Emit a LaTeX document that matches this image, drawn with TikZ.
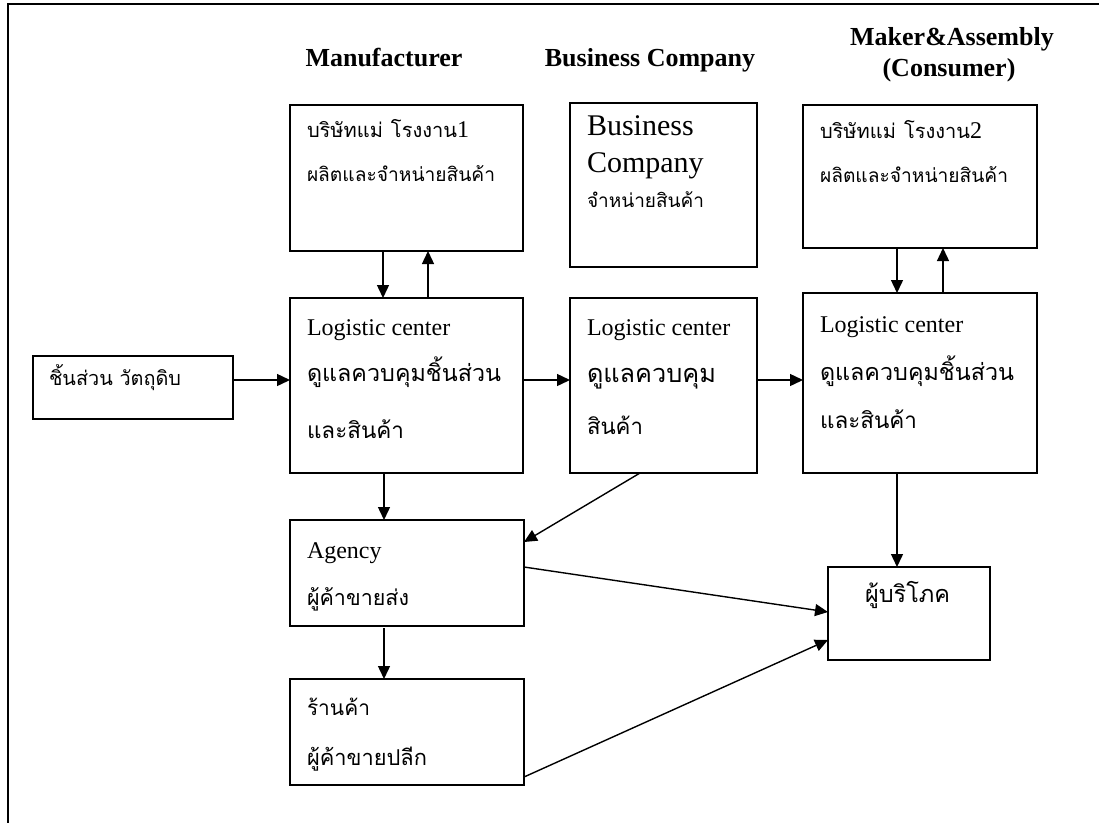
\documentclass[tikz,border=0pt]{standalone}
\usepackage{fontspec}
\usepackage{graphicx}
\setmainfont{Liberation Serif}
\newfontfamily\thaifont[Script=Thai]{Loma}
\usetikzlibrary{arrows.meta}
\newcommand{\tw}[2]{\resizebox{#1pt}{!}{\thaifont\fontsize{20}{24}\selectfont #2}}
\newcommand{\lat}{\fontsize{24}{28}\selectfont}
\begin{document}
\begin{tikzpicture}[x=1pt,y=-1pt,
  box/.style={draw,line width=1.7pt,rectangle,anchor=north west,inner sep=0pt,outer sep=0pt},
  arr/.style={line width=1.4pt,-{Triangle[length=13pt,width=12pt]}},
  txt/.style={anchor=base west,inner sep=0pt,outer sep=0pt},
  hd/.style={anchor=base,inner sep=0pt,font=\fontsize{26}{30}\selectfont\bfseries}
]
\useasboundingbox (0,0) rectangle (1099,822);
\draw[line width=2.4pt] (8,840) -- (8,4) -- (1120,4);

% headers
\node[hd] (h1) at (384,66) {Manufacturer};
\node[hd] (h2) at (650,66) {Business Company};
\node[hd] (h3) at (952,45) {Maker\&Assembly};
\node[hd] (h4) at (949,76) {(Consumer)};

% boxes
\node[box,minimum width=233pt,minimum height=146pt] (A) at (290,105) {};
\node[box,minimum width=187pt,minimum height=164pt] (B) at (570,103) {};
\node[box,minimum width=234pt,minimum height=143pt] (C) at (803,105) {};
\node[box,minimum width=200pt,minimum height=63pt] (D) at (33,356) {};
\node[box,minimum width=233pt,minimum height=175pt] (E) at (290,298) {};
\node[box,minimum width=187pt,minimum height=175pt] (F) at (570,298) {};
\node[box,minimum width=234pt,minimum height=180pt] (G) at (803,293) {};
\node[box,minimum width=234pt,minimum height=106pt] (H) at (290,520) {};
\node[box,minimum width=234pt,minimum height=106pt] (I) at (290,679) {};
\node[box,minimum width=162pt,minimum height=93pt] (J) at (828,567) {};

% texts
\node[txt] (a1) at (307,137) {\tw{150}{บริษัทแม่\hspace{8pt}โรงงาน}\lat 1};
\node[txt] (a2) at (307,181) {\tw{188}{ผลิตและจำหน่ายสินค้า}};
\node[txt] (b1) at (587,135) {\fontsize{30}{34}\selectfont Business};
\node[txt] (b2) at (587,172) {\fontsize{30}{34}\selectfont Company};
\node[txt] (b3) at (587,207) {\tw{117}{จำหน่ายสินค้า}};
\node[txt] (c1) at (820,138) {\tw{150}{บริษัทแม่\hspace{8pt}โรงงาน}\lat 2};
\node[txt] (c2) at (820,182) {\tw{188}{ผลิตและจำหน่ายสินค้า}};
\node[txt] (d1) at (49,385) {\tw{132}{ชิ้นส่วน วัตถุดิบ}};
\node[txt] (e1) at (307,335) {\lat Logistic center};
\node[txt] (e2) at (307,381) {\tw{194}{ดูแลควบคุมชิ้นส่วน}};
\node[txt] (e3) at (307,438) {\tw{97}{และสินค้า}};
\node[txt] (f1) at (587,335) {\lat Logistic center};
\node[txt] (f2) at (587,382) {\tw{129}{ดูแลควบคุม}};
\node[txt] (f3) at (587,434) {\tw{56}{สินค้า}};
\node[txt] (g1) at (820,332) {\lat Logistic center};
\node[txt] (g2) at (820,380) {\tw{194}{ดูแลควบคุมชิ้นส่วน}};
\node[txt] (g3) at (820,428) {\tw{97}{และสินค้า}};
\node[txt] (h1t) at (307,558) {\lat Agency};
\node[txt] (h2t) at (307,605) {\tw{102}{ผู้ค้าขายส่ง}};
\node[txt] (i1) at (307,715) {\tw{63}{ร้านค้า}};
\node[txt] (i2) at (307,765) {\tw{120}{ผู้ค้าขายปลีก}};
\node[txt] (j1) at (865,602) {\tw{85}{ผู้บริโภค}};

% connectors
\draw[arr] ([xshift=93pt]A.south west) -- ([xshift=93pt]E.north west);
\draw[arr] ([xshift=138pt]E.north west) -- ([xshift=138pt]A.south west);
\draw[arr] ([xshift=94pt]C.south west) -- ([xshift=94pt]G.north west);
\draw[arr] ([xshift=140pt]G.north west) -- ([xshift=140pt]C.south west);
\draw[arr] ([yshift=-24pt]D.north east) -- ([yshift=-82pt]E.north west);
\draw[arr] ([yshift=-82pt]E.north east) -- ([yshift=-82pt]F.north west);
\draw[arr] ([yshift=-82pt]F.north east) -- ([yshift=-87pt]G.north west);
\draw[arr] ([xshift=94pt]E.south west) -- ([xshift=94pt]H.north west);
\draw[arr] ([xshift=70pt]F.south west) -- ([yshift=-22pt]H.north east);
\draw[arr] ([xshift=94pt,yshift=-2pt]H.south west) -- ([xshift=94pt]I.north west);
\draw[arr] ([yshift=-47pt]H.north east) -- ([yshift=-45pt]J.north west);
\draw[arr] ([yshift=-98pt]I.north east) -- ([yshift=-73pt]J.north west);
\draw[arr] ([xshift=94pt]G.south west) -- ([xshift=69pt]J.north west);
\end{tikzpicture}
\end{document}
